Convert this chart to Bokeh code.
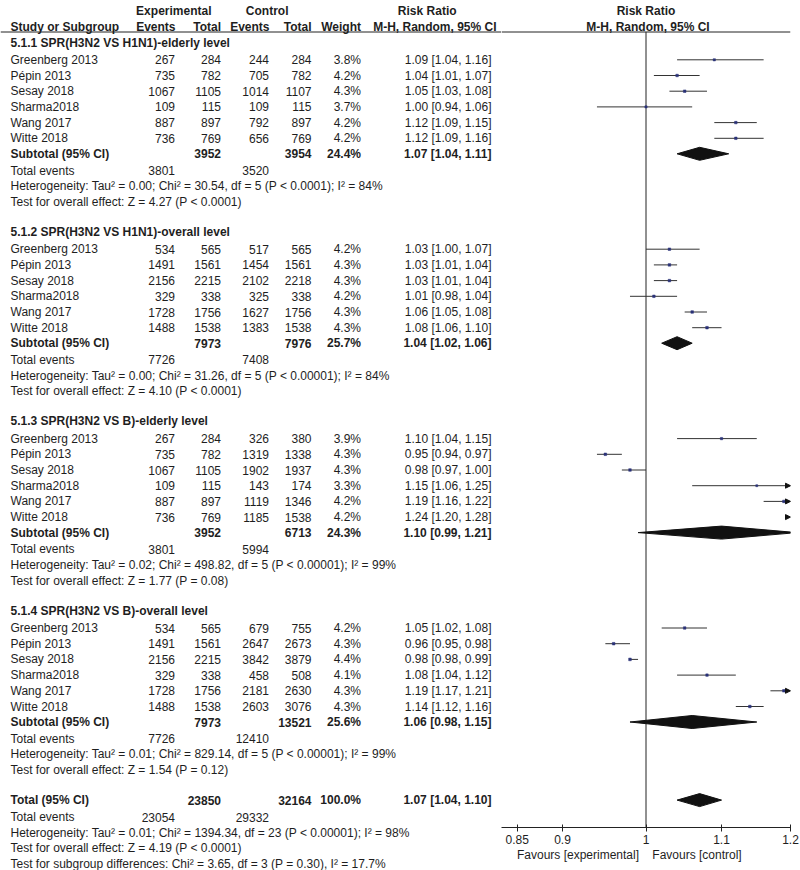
from bokeh.plotting import figure
from bokeh.models import ColumnDataSource, Range1d, FixedTicker, Arrow, NormalHead, Span
from bokeh.layouts import row
from bokeh.core.properties import value
from bokeh.embed import file_html
from bokeh.resources import INLINE

# ---------------- data ----------------
studies = ["Greenberg 2013", "Pépin 2013", "Sesay 2018", "Sharma2018", "Wang 2017", "Witte 2018"]
group_titles = [
    "5.1.1 SPR(H3N2 VS H1N1)-elderly level",
    "5.1.2 SPR(H3N2 VS H1N1)-overall level",
    "5.1.3 SPR(H3N2 VS B)-elderly level",
    "5.1.4 SPR(H3N2 VS B)-overall level",
]
exp_events = [
    [267, 735, 1067, 109, 887, 736],
    [534, 1491, 2156, 329, 1728, 1488],
    [267, 735, 1067, 109, 887, 736],
    [534, 1491, 2156, 329, 1728, 1488],
]
exp_total = [
    [284, 782, 1105, 115, 897, 769],
    [565, 1561, 2215, 338, 1756, 1538],
    [284, 782, 1105, 115, 897, 769],
    [565, 1561, 2215, 338, 1756, 1538],
]
ctl_events = [
    [244, 705, 1014, 109, 792, 656],
    [517, 1454, 2102, 325, 1627, 1383],
    [326, 1319, 1902, 143, 1119, 1185],
    [679, 2647, 3842, 458, 2181, 2603],
]
ctl_total = [
    [284, 782, 1107, 115, 897, 769],
    [565, 1561, 2218, 338, 1756, 1538],
    [380, 1338, 1937, 174, 1346, 1538],
    [755, 2673, 3879, 508, 2630, 3076],
]
weights = [
    [3.8, 4.2, 4.3, 3.7, 4.2, 4.2],
    [4.2, 4.3, 4.3, 4.2, 4.3, 4.3],
    [3.9, 4.3, 4.3, 3.3, 4.2, 4.2],
    [4.2, 4.3, 4.4, 4.1, 4.3, 4.3],
]
rr = [
    [1.09, 1.04, 1.05, 1.00, 1.12, 1.12],
    [1.03, 1.03, 1.03, 1.01, 1.06, 1.08],
    [1.10, 0.95, 0.98, 1.15, 1.19, 1.24],
    [1.05, 0.96, 0.98, 1.08, 1.19, 1.14],
]
rr_lo = [
    [1.04, 1.01, 1.03, 0.94, 1.09, 1.09],
    [1.00, 1.01, 1.01, 0.98, 1.05, 1.06],
    [1.04, 0.94, 0.97, 1.06, 1.16, 1.20],
    [1.02, 0.95, 0.98, 1.04, 1.17, 1.12],
]
rr_hi = [
    [1.16, 1.07, 1.08, 1.06, 1.15, 1.16],
    [1.07, 1.04, 1.04, 1.04, 1.08, 1.10],
    [1.15, 0.97, 1.00, 1.25, 1.22, 1.28],
    [1.08, 0.98, 0.99, 1.12, 1.21, 1.16],
]
sub_exp_total = [3952, 7973, 3952, 7973]
sub_ctl_total = [3954, 7976, 6713, 13521]
sub_weight = [24.4, 25.7, 24.3, 25.6]
sub_rr = [1.07, 1.04, 1.10, 1.06]
sub_lo = [1.04, 1.02, 0.99, 0.98]
sub_hi = [1.11, 1.06, 1.21, 1.15]
sub_exp_events = [3801, 7726, 3801, 7726]
sub_ctl_events = [3520, 7408, 5994, 12410]
sub_het = [
    "Heterogeneity: Tau² = 0.00; Chi² = 30.54, df = 5 (P < 0.0001); I² = 84%",
    "Heterogeneity: Tau² = 0.00; Chi² = 31.26, df = 5 (P < 0.00001); I² = 84%",
    "Heterogeneity: Tau² = 0.02; Chi² = 498.82, df = 5 (P < 0.00001); I² = 99%",
    "Heterogeneity: Tau² = 0.01; Chi² = 829.14, df = 5 (P < 0.00001); I² = 99%",
]
sub_effect = [
    "Test for overall effect: Z = 4.27 (P < 0.0001)",
    "Test for overall effect: Z = 4.10 (P < 0.0001)",
    "Test for overall effect: Z = 1.77 (P = 0.08)",
    "Test for overall effect: Z = 1.54 (P = 0.12)",
]
total_exp_total = 23850
total_ctl_total = 32164
total_weight = 100.0
total_rr = 1.07
total_lo = 1.04
total_hi = 1.10
total_exp_events = 23054
total_ctl_events = 29332
total_notes = [
    "Heterogeneity: Tau² = 0.01; Chi² = 1394.34, df = 23 (P < 0.00001); I² = 98%",
    "Test for overall effect: Z = 4.19 (P < 0.0001)",
    "Test for subgroup differences: Chi² = 3.65, df = 3 (P = 0.30), I² = 17.7%",
]
x_ticks = [0.85, 0.9, 1, 1.1, 1.2]
x_lo_lim, x_hi_lim = 1 / 1.2, 1.2
favours_left = "Favours [experimental]"
favours_right = "Favours [control]"

# ---------------- layout ----------------
H = 870
FONT = value("Liberation Sans")
FS = "12px"
TXT = "#1e1e1e"

COL_STUDY, COL_EE, COL_ET, COL_CE, COL_CT, COL_W, COL_RR = 10, 174.5, 220.5, 268.5, 311, 360.5, 491
Y_RULE = 31.5
G0, GSTEP = 42.0, 189.4
ROW0, RSTEP = 17.3, 15.7
DH = 6.5


def fmt_ci(a, b, c):
    return f"{a:.2f} [{b:.2f}, {c:.2f}]"


normal = dict(x=[], y=[], text=[], align=[])
bold = dict(x=[], y=[], text=[], align=[])


def put(d, x, y, t, a="left"):
    d["x"].append(x); d["y"].append(y); d["text"].append(t); d["align"].append(a)


# header
put(bold, 173.3, 10.7, "Experimental", "center")
put(bold, 266.7, 10.7, "Control", "center")
put(bold, 426.7, 10.7, "Risk Ratio", "center")
put(bold, COL_STUDY, 26.7, "Study or Subgroup")
put(bold, 175, 26.7, "Events", "right")
put(bold, COL_ET, 26.7, "Total", "right")
put(bold, 269, 26.7, "Events", "right")
put(bold, COL_CT, 26.7, "Total", "right")
put(bold, 360.5, 26.7, "Weight", "right")
put(bold, 496, 26.7, "M-H, Random, 95% CI", "right")

pts = dict(x=[], y=[], lo=[], hi=[], w=[])
dia = dict(xs=[], ys=[])
arr = dict(xs=[], xe=[], y=[])

for g in range(4):
    gy = G0 + GSTEP * g
    put(bold, COL_STUDY, gy, group_titles[g])
    for i, s in enumerate(studies):
        y = gy + ROW0 + RSTEP * i
        put(normal, COL_STUDY, y, s)
        put(normal, COL_EE, y, str(exp_events[g][i]), "right")
        put(normal, COL_ET, y, str(exp_total[g][i]), "right")
        put(normal, COL_CE, y, str(ctl_events[g][i]), "right")
        put(normal, COL_CT, y, str(ctl_total[g][i]), "right")
        put(normal, COL_W, y, f"{weights[g][i]:.1f}%", "right")
        put(normal, COL_RR, y, fmt_ci(rr[g][i], rr_lo[g][i], rr_hi[g][i]), "right")
        pts["x"].append(rr[g][i]); pts["y"].append(y)
        pts["lo"].append(rr_lo[g][i]); pts["hi"].append(rr_hi[g][i])
        pts["w"].append(weights[g][i] * 0.6)
        if rr_hi[g][i] > x_hi_lim:
            arr["xs"].append(x_hi_lim / 1.01); arr["xe"].append(x_hi_lim); arr["y"].append(y)
    ys = gy + 111.3
    put(bold, COL_STUDY, ys, "Subtotal (95% CI)")
    put(bold, COL_ET, ys, str(sub_exp_total[g]), "right")
    put(bold, COL_CT, ys, str(sub_ctl_total[g]), "right")
    put(bold, COL_W, ys, f"{sub_weight[g]:.1f}%", "right")
    put(bold, COL_RR, ys, fmt_ci(sub_rr[g], sub_lo[g], sub_hi[g]), "right")
    dia["xs"].append([sub_lo[g], sub_rr[g], sub_hi[g], sub_rr[g]])
    dia["ys"].append([ys, ys - DH, ys, ys + DH])
    put(normal, COL_STUDY, gy + 128, "Total events")
    put(normal, COL_EE, gy + 128, str(sub_exp_events[g]), "right")
    put(normal, COL_CE, gy + 128, str(sub_ctl_events[g]), "right")
    put(normal, COL_STUDY, gy + 143.6, sub_het[g])
    put(normal, COL_STUDY, gy + 159.3, sub_effect[g])

ty = G0 + GSTEP * 4
put(bold, COL_STUDY, ty, "Total (95% CI)")
put(bold, COL_ET, ty, str(total_exp_total), "right")
put(bold, COL_CT, ty, str(total_ctl_total), "right")
put(bold, COL_W, ty, f"{total_weight:.1f}%", "right")
put(bold, COL_RR, ty, fmt_ci(total_rr, total_lo, total_hi), "right")
dia["xs"].append([total_lo, total_rr, total_hi, total_rr])
dia["ys"].append([ty, ty - DH, ty, ty + DH])
put(normal, COL_STUDY, ty + 17, "Total events")
put(normal, COL_EE, ty + 17, str(total_exp_events), "right")
put(normal, COL_CE, ty + 17, str(total_ctl_events), "right")
for k, t in enumerate(total_notes):
    put(normal, COL_STUDY, ty + 32.4 + 15.7 * k, t)

# ---------------- left (table) figure ----------------
LW = 501
left = figure(width=LW, height=H, x_range=Range1d(0, LW), y_range=Range1d(H, 0),
              x_axis_type=None, y_axis_type=None, toolbar_location=None,
              output_backend="svg", min_border=0, frame_align=False)
left.outline_line_color = None
left.grid.visible = False
for d, style in ((normal, "normal"), (bold, "bold")):
    left.text(x="x", y="y", text="text", text_align="align", text_baseline="middle",
              text_font=FONT, text_font_size=FS, text_font_style=style, text_color=TXT,
              source=ColumnDataSource(d))
left.add_layout(Span(location=Y_RULE, dimension="width", line_color="#222", line_width=1))

# ---------------- right (forest) figure ----------------
RW = 800 - LW
FRAME_W = 289
BOTTOM = 43
frame_h = H - BOTTOM
right = figure(width=RW, height=H, x_axis_type="log", y_axis_type=None,
               x_range=Range1d(x_lo_lim, x_hi_lim), y_range=Range1d(frame_h, 0),
               toolbar_location=None, output_backend="svg",
               min_border_left=0, min_border_right=RW - FRAME_W, min_border_top=0,
               min_border_bottom=BOTTOM, frame_align=False)
right.outline_line_color = None
right.grid.visible = False
ax = right.xaxis[0]
ax.ticker = FixedTicker(ticks=x_ticks)
ax.major_label_overrides = {t: ("1" if t == 1 else str(t)) for t in x_ticks}
ax.minor_tick_line_color = None
ax.major_tick_in = 3
ax.major_tick_out = 4
ax.major_label_standoff = 3
ax.axis_line_color = "#222"
ax.major_tick_line_color = "#222"
ax.major_label_text_font = "Liberation Sans"
ax.major_label_text_font_size = FS
ax.major_label_text_color = TXT
NB = "\u00a0"
ax.axis_label = favours_left + NB * 4 + favours_right + NB * 10
ax.axis_label_text_font = "Liberation Sans"
ax.axis_label_text_font_size = FS
ax.axis_label_text_font_style = "normal"
ax.axis_label_text_color = TXT
ax.axis_label_standoff = 1

right.add_layout(Span(location=Y_RULE, dimension="width", line_color="#222", line_width=1))
right.segment(x0=[1], y0=[Y_RULE], x1=[1], y1=[frame_h], line_color="#222", line_width=1)
right.text(x=[1, 1], y=[10.7, 26.7], text=["Risk Ratio", "M-H, Random, 95% CI"],
           x_offset=[0, 2], text_align="center", text_baseline="middle",
           text_font=FONT, text_font_size=FS, text_font_style="bold", text_color=TXT)

psrc = ColumnDataSource(pts)
right.segment(x0="lo", y0="y", x1="hi", y1="y", source=psrc, line_color="#333", line_width=1)
right.scatter(x="x", y="y", size="w", marker="square", source=psrc,
              fill_color="#2a3278", line_color="#2a3278", line_width=0.5)
right.patches(xs="xs", ys="ys", source=ColumnDataSource(dia), fill_color="#111", line_color="#111")
right.add_layout(Arrow(end=NormalHead(size=5, fill_color="#111", line_color="#111", line_width=1),
                       x_start="xs", y_start="y", x_end="xe", y_end="y",
                       source=ColumnDataSource(arr), line_alpha=0))

layout = row(left, right, spacing=0)
open("out.html", "w").write(file_html(layout, INLINE))
